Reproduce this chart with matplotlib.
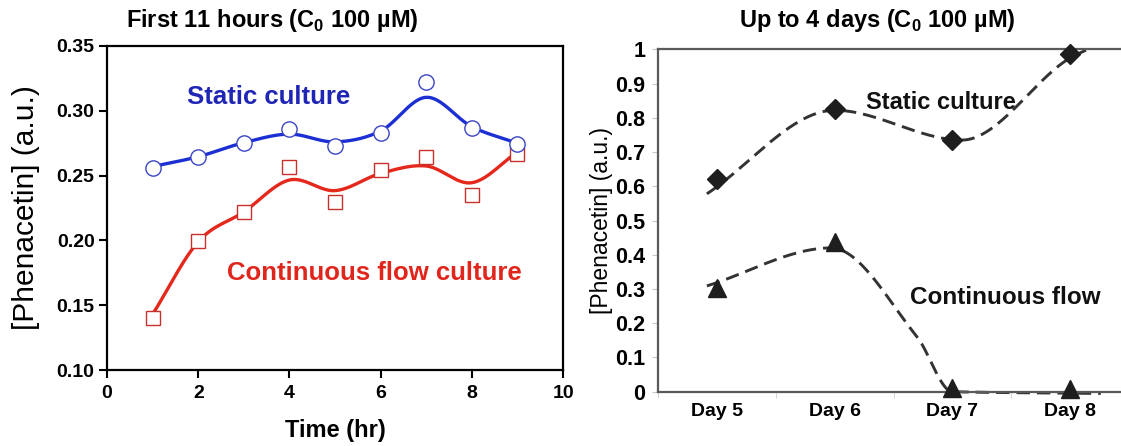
import matplotlib
matplotlib.use("Agg")
import matplotlib.pyplot as plt
import numpy as np

plt.rcParams["font.family"] = ["Liberation Sans", "DejaVu Sans"]
plt.rcParams["mathtext.fontset"] = "custom"
plt.rcParams["mathtext.rm"] = "Liberation Sans"
plt.rcParams["mathtext.bf"] = "Liberation Sans:bold"

# --- first 11 hours ---
hours = [1, 2, 3, 4, 5, 6, 7, 8, 9]
static_hr = [0.256, 0.264, 0.275, 0.286, 0.273, 0.283, 0.322, 0.2865, 0.274]
flow_hr = [0.140, 0.1995, 0.222, 0.257, 0.230, 0.254, 0.264, 0.235, 0.267]
# smoothed fits drawn through the scatter
static_hr_fit = [0.257, 0.2646, 0.2754, 0.282, 0.276, 0.2844, 0.3104, 0.2877, 0.275]
flow_hr_fit = [0.143, 0.199, 0.222, 0.2466, 0.2384, 0.2517, 0.2574, 0.2445, 0.2684]
hr_xticks = [0, 2, 4, 6, 8, 10]
hr_yticks = [0.10, 0.15, 0.20, 0.25, 0.30, 0.35]
hr_ylabels = ["0.10", "0.15", "0.20", "0.25", "0.30", "0.35"]

# --- up to 4 days ---
days = ["Day 5", "Day 6", "Day 7", "Day 8"]
static_day = [0.62, 0.825, 0.735, 0.985]
flow_day = [0.304, 0.438, 0.01, 0.009]
# dashed trend curves (knots along the category axis)
static_trend_x = [0.915, 2.0, 3.08, 4.0, 4.15]
static_trend_y = [0.578, 0.822, 0.735, 0.975, 1.0]
flow_trend_x = [0.915, 1.97, 2.7, 3.0, 4.26]
flow_trend_y = [0.309, 0.42, 0.16, 0.0, -0.005]
day_yticks = [0, 0.1, 0.2, 0.3, 0.4, 0.5, 0.6, 0.7, 0.8, 0.9, 1.0]
day_ylabels = ["0", "0.1", "0.2", "0.3", "0.4", "0.5", "0.6", "0.7", "0.8", "0.9", "1"]


def smooth_curve(xk, yk, num=300, monotone=False):
    """Cubic Hermite curve through the knots (Catmull-Rom or monotone tangents)."""
    xk = np.asarray(xk, float)
    yk = np.asarray(yk, float)
    d = np.diff(yk) / np.diff(xk)
    m = np.empty_like(yk)
    m[0], m[-1] = d[0], d[-1]
    if monotone:
        for k in range(1, len(yk) - 1):
            if d[k - 1] * d[k] <= 0:
                m[k] = 0.0
            else:
                m[k] = 2.0 / (1.0 / d[k - 1] + 1.0 / d[k])
    else:
        m[1:-1] = (yk[2:] - yk[:-2]) / (xk[2:] - xk[:-2])
    xs = np.linspace(xk[0], xk[-1], num)
    i = np.clip(np.searchsorted(xk, xs) - 1, 0, len(xk) - 2)
    h = xk[i + 1] - xk[i]
    t = (xs - xk[i]) / h
    h00 = 2 * t**3 - 3 * t**2 + 1
    h10 = t**3 - 2 * t**2 + t
    h01 = -2 * t**3 + 3 * t**2
    h11 = t**3 - t**2
    ys = h00 * yk[i] + h10 * h * m[i] + h01 * yk[i + 1] + h11 * h * m[i + 1]
    return xs, ys


W, H = 1121, 446
fig = plt.figure(figsize=(W / 100, H / 100), dpi=100)

# ---------------- left panel ----------------
ax1 = fig.add_axes([0.0955, 0.1704, 0.4068, 0.7265])
blue = "#1c2fd2"
red = "#e5281c"
x, y = smooth_curve(hours, static_hr_fit)
ax1.plot(x, y, color=blue, lw=2.4, zorder=2)
x, y = smooth_curve(hours, flow_hr_fit)
ax1.plot(x, y, color=red, lw=2.4, zorder=2)
ax1.plot(hours, flow_hr, ls="none", marker="s", ms=10, mfc="white",
         mec="#c8302c", mew=1.0, zorder=3)
ax1.plot(hours, static_hr, ls="none", marker="o", ms=11, mfc="white",
         mec="#3a44c4", mew=1.0, zorder=4)

ax1.set_xlim(0, 10)
ax1.set_ylim(0.10, 0.35)
ax1.set_xticks(hr_xticks)
ax1.set_yticks(hr_yticks)
ax1.set_yticklabels(hr_ylabels)
ax1.tick_params(direction="out", length=6, width=1.5, labelsize=14, pad=3)
ax1.tick_params(axis="x", pad=5)
for lab in ax1.get_xticklabels() + ax1.get_yticklabels():
    lab.set_fontweight("bold")
for s in ax1.spines.values():
    s.set_linewidth(1.6)
    s.set_color("black")
ax1.set_xlabel("Time (hr)", fontsize=17, fontweight="bold", labelpad=12)
ax1.set_ylabel("[Phenacetin] (a.u.)", fontsize=21.5, labelpad=12)
fig.text(272 / W, 1 - 21 / H, r"First 11 hours (C$_\mathbf{0}$ 100 µM)",
         fontsize=17, fontweight="bold", ha="center", va="center")
ax1.text(3.55, 0.3105, "Static culture", color="#1f25b4", fontsize=18.5,
         fontweight="bold", ha="center", va="center")
ax1.text(5.855, 0.1749, "Continuous flow culture", color="#e0261c",
         fontsize=18.5, fontweight="bold", ha="center", va="center")

# ---------------- right panel ----------------
ax2 = fig.add_axes([0.5870, 0.1217, 0.4202, 0.7677])
pos = np.arange(1, len(days) + 1)
dash_kw = dict(color="#333333", lw=2.1, dashes=(4.6, 2.4), zorder=2)
x, y = smooth_curve(static_trend_x, static_trend_y, monotone=True)
ax2.plot(x, y, **dash_kw)
x, y = smooth_curve(flow_trend_x, flow_trend_y, monotone=True)
ax2.plot(x, y, clip_on=False, **dash_kw)
ax2.plot(pos, static_day, ls="none", marker="D", ms=10.5, color="#1e1e1e",
         zorder=3, clip_on=False)
ax2.plot(pos, flow_day, ls="none", marker="^", ms=13, color="#1e1e1e",
         zorder=3, clip_on=False)

ax2.set_xlim(0.5, 4.5)
ax2.set_ylim(0, 1)
ax2.set_xticks(pos)
ax2.set_xticklabels(days)
ax2.set_xticks(np.arange(0.5, 4.6, 1.0), minor=True)
ax2.set_yticks(day_yticks)
ax2.set_yticklabels(day_ylabels)
ax2.tick_params(axis="x", which="major", length=0, labelsize=14, pad=8)
ax2.tick_params(axis="x", which="minor", length=4, color="#d0d0d0")
ax2.tick_params(axis="y", length=4, color="#c8c8c8", labelsize=15.5, pad=5)
for lab in ax2.get_xticklabels() + ax2.get_yticklabels():
    lab.set_fontweight("bold")
for s in ax2.spines.values():
    s.set_linewidth(1.6)
    s.set_color("#5a5a5a")
ax2.set_ylabel("[Phenacetin] (a.u.)", fontsize=16.5, labelpad=2)
fig.text(877 / W, 1 - 21 / H, r"Up to 4 days (C$_\mathbf{0}$ 100 µM)",
         fontsize=17, fontweight="bold", ha="center", va="center")
ax2.text(2.90, 0.845, "Static culture", color="#111111", fontsize=17,
         fontweight="bold", ha="center", va="center")
ax2.text(3.45, 0.275, "Continuous flow", color="#111111", fontsize=17.5,
         fontweight="bold", ha="center", va="center")

fig.savefig("out.png", dpi=100)
